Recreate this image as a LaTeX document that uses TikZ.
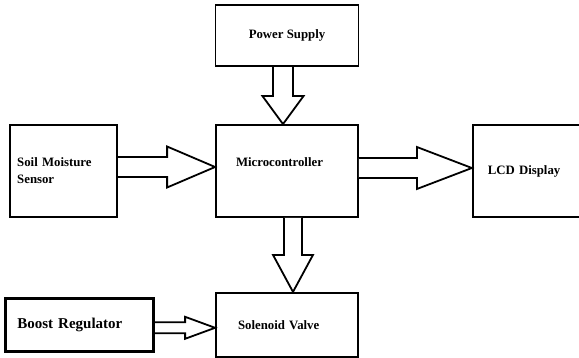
\documentclass[tikz,border=0pt]{standalone}
\usepackage{fontspec}
\setmainfont{Liberation Serif}
\usetikzlibrary{positioning, calc}
\tikzstyle{block} = [rectangle, draw, line width=1.8pt, font=\fontsize{12.8}{17}\selectfont\bfseries, text centered]
\tikzstyle{hollow} = [draw, line width=1.8pt, fill=white, line join=miter]
% hollow block arrow: start, tip, shaft half width, head half width, head length
\newcommand{\hollowarrow}[5]{%
    \coordinate (ha-s) at #1;
    \coordinate (ha-t) at #2;
    \coordinate (ha-e) at ($(ha-t)!#5!(ha-s)$);
    \draw [hollow] ($(ha-s)!#3!90:(ha-t)$) -- ($(ha-e)!#3!90:(ha-t)$) -- ($(ha-e)!#4!90:(ha-t)$) -- (ha-t)
        -- ($(ha-e)!#4!-90:(ha-t)$) -- ($(ha-e)!#3!-90:(ha-t)$) -- ($(ha-s)!#3!-90:(ha-t)$);
}

\begin{document}
\begin{tikzpicture}[x=1pt, y=1pt]
    \useasboundingbox (0,0) rectangle (579,357);

    % Microcontroller
    \node (micro) [block, minimum width=142pt, minimum height=92pt, text width=102pt, inner xsep=20pt, align=left, text depth=17pt] at (287,186) {Microcontroller};

    % Inputs and outputs
    \node (power) [block, minimum width=143pt, minimum height=61pt, above=57pt of micro] {Power Supply};
    \node (sensor) [block, text width=93pt, inner xsep=7pt, minimum height=92pt, align=left, text depth=17pt, left=97pt of micro] {Soil Moisture\\Sensor};
    \node (lcd) [block, text width=85pt, inner xsep=15pt, minimum height=92pt, align=left, right=113pt of micro] {LCD Display};
    \node (valve) [block, text width=98pt, inner xsep=22pt, minimum height=64pt, align=left, below=74pt of micro] {Solenoid Valve};

    % Boost regulator
    \node (boost) [block, line width=3.5pt, font=\fontsize{15}{18}\selectfont\bfseries, text width=124pt, inner xsep=12pt, minimum height=53pt, align=left, left=60pt of valve] {Boost Regulator};

    % Arrows
    \hollowarrow{([xshift=-4pt]power.south)}{([xshift=-4pt]micro.north)}{10pt}{20.5pt}{28pt}
    \hollowarrow{([yshift=4pt]sensor.east)}{([yshift=4pt]micro.west)}{10pt}{20.5pt}{48pt}
    \hollowarrow{([yshift=3pt]micro.east)}{([yshift=3pt]lcd.west)}{10pt}{21pt}{55pt}
    \hollowarrow{([xshift=6pt]micro.south)}{([xshift=6pt]valve.north)}{9pt}{20pt}{37pt}
    \hollowarrow{([yshift=-3pt]boost.east)}{([yshift=-3pt]valve.west)}{5.5pt}{11pt}{30pt}
\end{tikzpicture}
\end{document}
